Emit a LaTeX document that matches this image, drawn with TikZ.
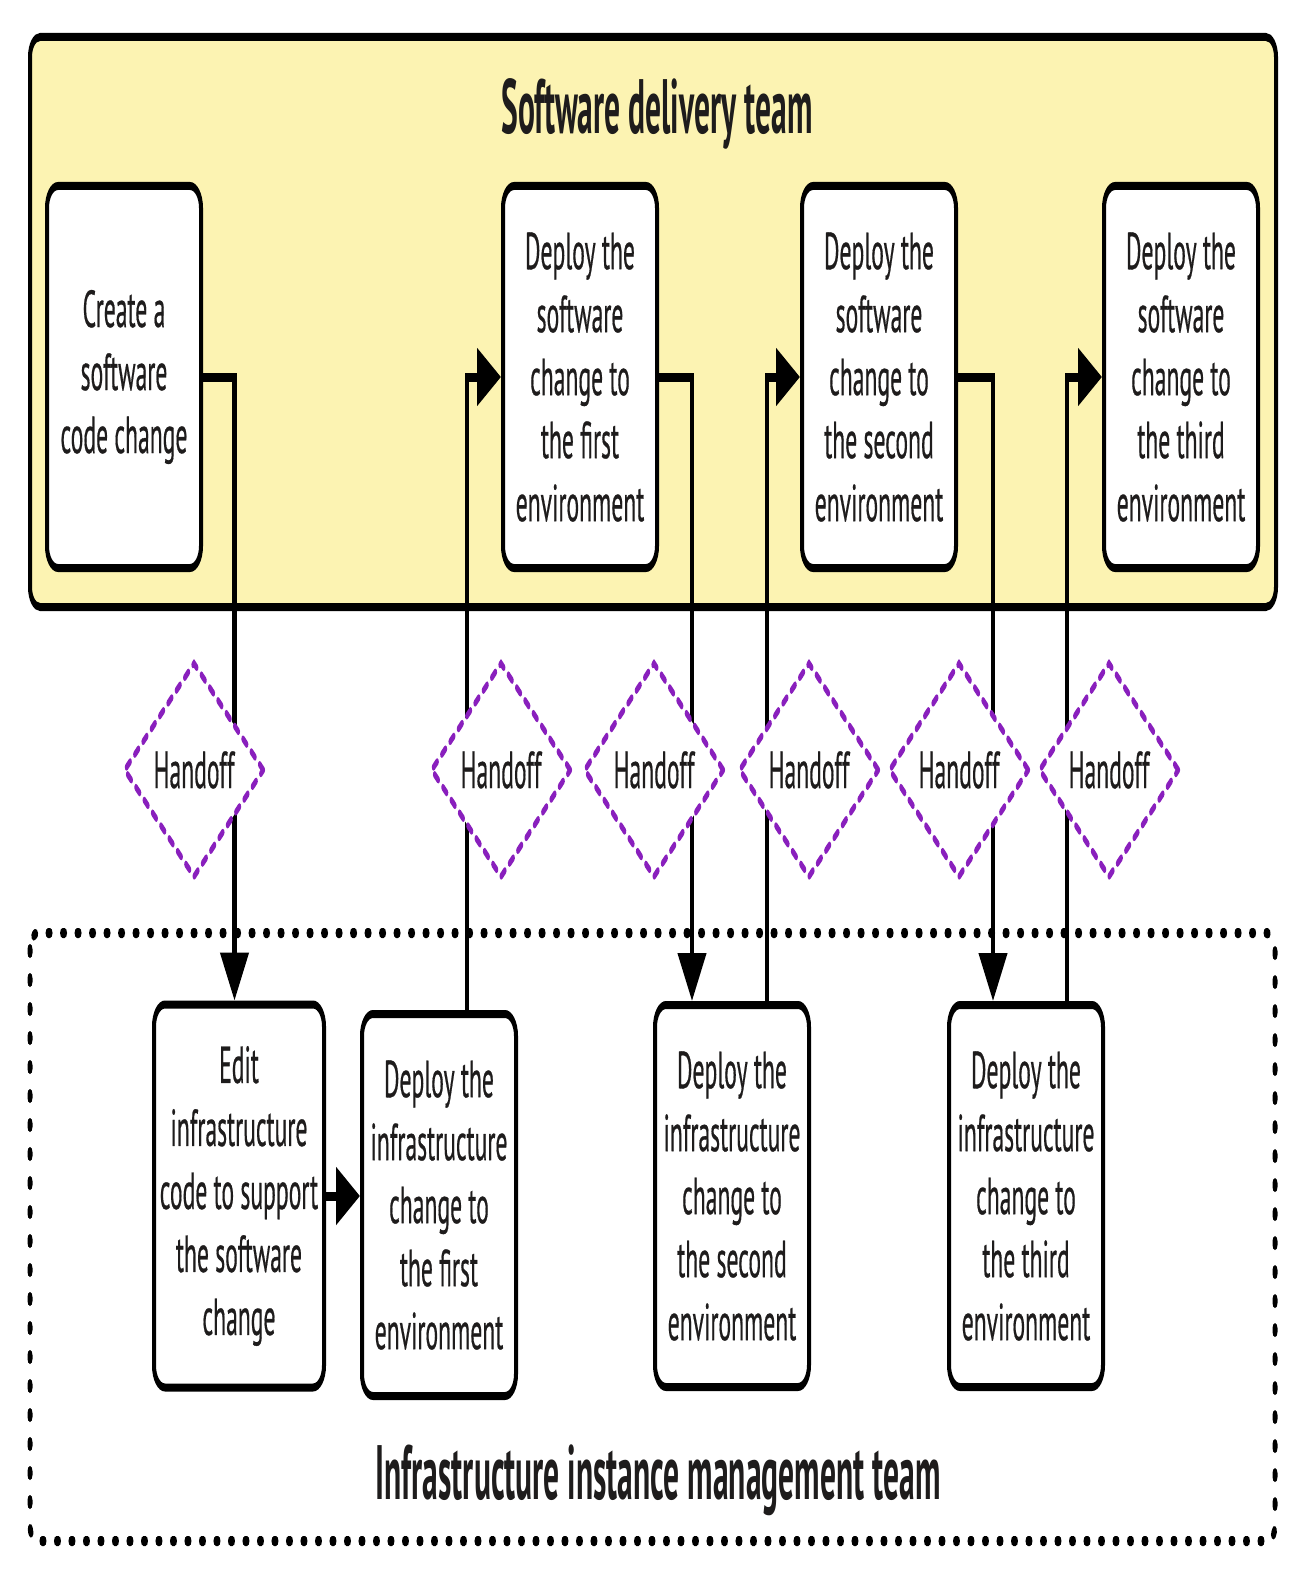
\documentclass[tikz,border=0pt]{standalone}
\usepackage{fontspec}
\setmainfont{PT Sans}[FakeStretch=0.91,FakeBold=0.6]
\newfontfamily\titlefont[FakeStretch=0.82]{PT Sans}
\usetikzlibrary{arrows.meta,shapes.geometric}
\definecolor{lane}{RGB}{252,243,178}
\definecolor{hand}{RGB}{137,31,189}
\definecolor{ink}{RGB}{30,28,28}
\tikzset{
  lanebox/.style={draw=black,line width=8pt,fill=lane,rounded corners=20pt},
  dotbox/.style={draw=black,line width=10pt,line cap=round,dash pattern=on 4pt off 25pt,rounded corners=16pt},
  stepbox/.style={draw=black,line width=8pt,fill=white,rounded corners=22pt,inner sep=0pt,
     minimum width=308pt,minimum height=382pt,align=center,text=ink,
     font=\fontsize{52}{63}\selectfont},
  teamtitle/.style={text=ink,font=\titlefont\bfseries\fontsize{77}{80}\selectfont,anchor=base,inner sep=0pt},
  handoff/.style={diamond,draw=hand,fill=white,line width=7pt,line cap=round,
     dash pattern=on 9pt off 12pt,shape aspect=1.3,inner sep=0pt,
     minimum width=280pt,minimum height=216pt,text=ink,
     font=\fontsize{52}{63}\selectfont},
  conn/.style={draw=black,line width=9pt},
  tip/.style={-{Triangle[length=48pt,width=56pt]}}
}
\begin{document}
\begin{tikzpicture}[x=1pt,y=-1pt]
\path[use as bounding box,fill=white] (0,0) rectangle (1306,1578);
\begin{scope}[transform canvas={xscale=0.5}]
  % team areas
  \path[lanebox] (60,37) rectangle (2552,607);
  \path[dotbox] (60,933) rectangle (2550,1541);
  \node[teamtitle] (top) at (1314,134) {Software delivery team};
  \node[teamtitle] (bottom) at (1316,1499) {Infrastructure instance management team};
  % software delivery steps
  \node[stepbox] (b1) at (248,377) {Create a\\software\\code change};
  \node[stepbox] (b2) at (1160,377) {Deploy the\\software\\change to\\the first\\environment};
  \node[stepbox] (b3) at (1758,377) {Deploy the\\software\\change to\\the second\\environment};
  \node[stepbox] (b4) at (2362,377) {Deploy the\\software\\change to\\the third\\environment};
  % infrastructure steps
  \node[stepbox,minimum width=340pt,minimum height=383pt] (e1) at (478,1196) {Edit\\infrastructure\\code to support\\the software\\change};
  \node[stepbox] (i1) at (878,1205) {Deploy the\\infrastructure\\change to\\the first\\environment};
  \node[stepbox] (i2) at (1464,1196) {Deploy the\\infrastructure\\change to\\the second\\environment};
  \node[stepbox] (i3) at (2052,1196) {Deploy the\\infrastructure\\change to\\the third\\environment};
  % connectors
  \draw[conn,tip] (b1.east) -| ([xshift=-9pt]e1.north);
  \draw[conn,tip] ([xshift=56pt]i1.north) |- (b2.west);
  \draw[conn,tip] (b2.east) -| ([xshift=-80pt]i2.north);
  \draw[conn,tip] ([xshift=70pt]i2.north) |- (b3.west);
  \draw[conn,tip] (b3.east) -| ([xshift=-66pt]i3.north);
  \draw[conn,tip] ([xshift=82pt]i3.north) |- (b4.west);
  \draw[conn,tip] (e1.east) -- (e1.east -| i1.west);
  % handoffs
  \node[handoff] (h1) at (388,770) {Handoff};
  \node[handoff] (h2) at (1002,770) {Handoff};
  \node[handoff] (h3) at (1308,770) {Handoff};
  \node[handoff] (h4) at (1618,770) {Handoff};
  \node[handoff] (h5) at (1918,770) {Handoff};
  \node[handoff] (h6) at (2218,770) {Handoff};
\end{scope}
\end{tikzpicture}
\end{document}
